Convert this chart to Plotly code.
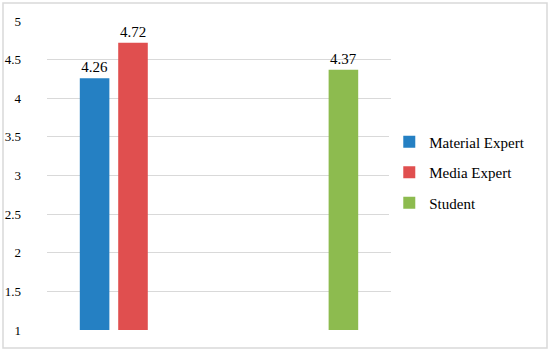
import plotly.graph_objects as go

categories = ["Group 1", "Group 2"]
series_names = ["Material Expert", "Media Expert", "Student"]
material_expert = [4.26, None]
media_expert = [4.72, None]
student = [None, 4.37]
y_ticks = [1, 1.5, 2, 2.5, 3, 3.5, 4, 4.5, 5]
axis_base = 1

colors = ["#2580C3", "#E04F4F", "#8DBB4F"]
serif = "Liberation Serif"

fig = go.Figure()
for name, vals, col in zip(series_names, [material_expert, media_expert, student], colors):
    fig.add_trace(go.Bar(
        x=categories,
        y=[None if v is None else v - axis_base for v in vals],
        base=axis_base,
        name=name,
        marker=dict(color=col, line=dict(width=0)),
        text=[None if v is None else f"{v:.2f}" for v in vals],
        texttemplate="%{text}", textposition="outside",
        textfont=dict(family=serif, size=15, color="#000000"),
        cliponaxis=False,
        legendgroup=name,
        hoverinfo="skip",
    ))

fig.update_layout(
    width=550, height=353,
    margin=dict(l=47, r=159, t=21, b=23, autoexpand=False),
    paper_bgcolor="white", plot_bgcolor="white",
    barmode="group", bargap=0.33, bargroupgap=0.23,
    font=dict(family=serif, size=13, color="#000000"),
    showlegend=True,
    legend=dict(x=0.995, xanchor="left", y=0.51, yanchor="middle",
                font=dict(family=serif, size=15, color="#000000"),
                tracegroupgap=8, itemwidth=30),
    xaxis=dict(showticklabels=False, showgrid=False, showline=False, zeroline=False,
               ticks="", automargin=False),
    yaxis=dict(range=[1, 5.0001], tickvals=y_ticks, ticktext=[f"{t:g}" for t in y_ticks],
               showgrid=True, gridcolor="#D9D9D9", gridwidth=1,
               zeroline=False, showline=False, ticks="", automargin=False,
               tickfont=dict(family=serif, size=13, color="#000000"),
               ticklabelstandoff=25),
    shapes=[dict(type="rect", xref="paper", yref="paper",
                 x0=(3 - 47) / 344, x1=(547 - 47) / 344,
                 y0=(330 - 348) / 309, y1=(330 - 3) / 309,
                 line=dict(color="#D9D9D9", width=1.5), layer="below")],
)

fig.write_html("out.html", config={"displayModeBar": False},
               post_script="document.body.style.margin='0';")
